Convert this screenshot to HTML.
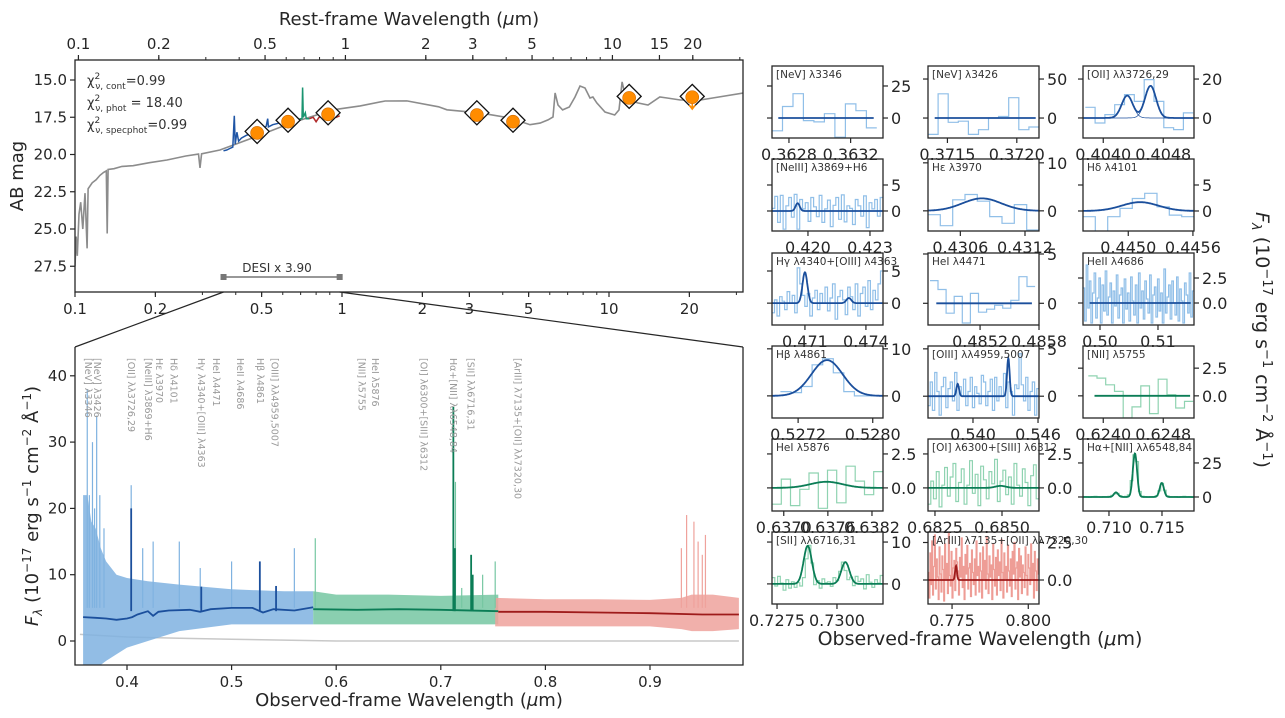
<!DOCTYPE html>
<html><head><meta charset="utf-8"><title>SED and spectrum fit</title>
<style>
html,body{margin:0;padding:0;background:#fff;}
svg{display:block;font-family:"DejaVu Sans","Liberation Sans",sans-serif;}
</style></head>
<body>
<svg id="fig" width="1285" height="718" viewBox="0 0 1285 718" xmlns="http://www.w3.org/2000/svg">
<rect x="0" y="0" width="1285" height="718" fill="#fff"/>
<text x="409" y="25" font-size="18" text-anchor="middle" fill="#262626">Rest-frame Wavelength (<tspan font-style="italic">μ</tspan>m)</text>
<text transform="translate(23,176) rotate(-90)" font-size="18" text-anchor="middle" fill="#262626">AB mag</text>
<text x="87" y="85" font-size="13" fill="#333">χ<tspan dy="-6" font-size="9">2</tspan><tspan dx="-5" dy="10" font-size="9">ν, cont</tspan><tspan dy="-4">=0.99</tspan></text>
<text x="87" y="107" font-size="13" fill="#333">χ<tspan dy="-6" font-size="9">2</tspan><tspan dx="-5" dy="10" font-size="9">ν, phot</tspan><tspan dy="-4"> = 18.40</tspan></text>
<text x="87" y="129" font-size="13" fill="#333">χ<tspan dy="-6" font-size="9">2</tspan><tspan dx="-5" dy="10" font-size="9">ν, specphot</tspan><tspan dy="-4">=0.99</tspan></text>
<text x="277" y="272" font-size="12" text-anchor="middle" fill="#333">DESI x 3.90</text>
<text transform="translate(38,506) rotate(-90)" font-size="18" text-anchor="middle" fill="#262626"><tspan font-style="italic">F</tspan><tspan font-size="12" dy="4" font-style="italic">λ</tspan><tspan dy="-4"> (10</tspan><tspan font-size="12" dy="-7">−17</tspan><tspan dy="7"> erg s</tspan><tspan font-size="12" dy="-7">−1</tspan><tspan dy="7"> cm</tspan><tspan font-size="12" dy="-7">−2</tspan><tspan dy="7"> Å</tspan><tspan font-size="12" dy="-7">−1</tspan><tspan dy="7">)</tspan></text>
<text x="409" y="706" font-size="18" text-anchor="middle" fill="#262626">Observed-frame Wavelength (<tspan font-style="italic">μ</tspan>m)</text>
<text x="980" y="645" font-size="19" text-anchor="middle" fill="#262626">Observed-frame Wavelength (<tspan font-style="italic">μ</tspan>m)</text>
<text transform="translate(1256,340) rotate(90)" font-size="19" text-anchor="middle" fill="#262626"><tspan font-style="italic">F</tspan><tspan font-size="13" dy="4" font-style="italic">λ</tspan><tspan dy="-4"> (10</tspan><tspan font-size="13" dy="-7">−17</tspan><tspan dy="7"> erg s</tspan><tspan font-size="13" dy="-7">−1</tspan><tspan dy="7"> cm</tspan><tspan font-size="13" dy="-7">−2</tspan><tspan dy="7"> Å</tspan><tspan font-size="13" dy="-7">−1</tspan><tspan dy="7">)</tspan></text>
</svg>
<script>
// ---------------- SED (top panel) data ----------------
const sedLam=[0.100,0.101,0.102,0.1035,0.105,0.107,0.109,0.111,0.112,0.116,0.120,0.124,0.128,0.131,0.132,0.133,0.140,0.150,0.165,0.190,0.221,0.260,0.290,0.294,0.298,0.349,0.40,0.493,0.60,0.696,0.925,1.17,1.45,1.75,2.3,2.47,3.29,4.26,5.06,5.52,5.91,6.17,6.28,6.44,6.7,7.1,7.46,7.79,8.13,8.49,8.7,9.0,9.66,10.5,10.9,11.2,11.6,12.0,12.8,14.0,15.5,16.5,18.5,22.0,31.8];
const sedMag=[27.5,25.5,26.8,24.0,23.2,25.0,22.6,26.3,22.3,21.9,21.7,21.4,21.2,21.1,25.3,21.0,20.95,20.8,20.75,20.55,20.37,20.1,19.97,20.9,19.95,19.7,19.3,18.7,18.1,17.7,17.0,16.74,16.41,16.4,16.8,17.0,17.21,17.55,18.0,17.89,17.68,17.48,15.87,16.68,17.01,16.81,16.14,15.40,15.54,16.21,16.14,16.54,17.15,17.35,17.01,15.13,16.34,16.34,16.54,16.68,16.14,16.21,16.34,16.34,15.87];
const photLam=[0.481,0.628,0.887,3.2,4.37,11.9,20.5];
const photMag=[18.55,17.8,17.3,17.35,17.8,16.2,16.15];
const modelPhotMag=[18.45,17.7,17.2,17.2,17.7,16.1,16.1];
const sedBlueLam=[0.36,0.37,0.38,0.39,0.395,0.398,0.404,0.41,0.42,0.44,0.46,0.48,0.49,0.50,0.52,0.527,0.53,0.55,0.58];
const sedBlueMag=[19.75,19.7,19.6,19.5,17.4,19.3,18.5,19.1,18.9,18.7,18.6,18.4,18.45,18.3,18.1,17.6,18.15,18.0,17.9];
const sedGreenLam=[0.58,0.62,0.66,0.70,0.708,0.712,0.716,0.729,0.735,0.755];
const sedGreenMag=[17.9,17.8,17.75,17.6,17.6,15.5,17.5,17.2,17.6,17.6];
const sedRedLam=[0.755,0.78,0.80,0.82,0.86,0.90,0.95,0.98];
const sedRedMag=[17.6,17.5,17.8,17.5,17.45,17.4,17.5,17.4];
const topMagTicks=[15.0,17.5,20.0,22.5,25.0,27.5];
const topMagLabels=["15.0","17.5","20.0","22.5","25.0","27.5"];
const obsTicks=[0.1,0.2,0.5,1,2,3,5,10,20];
const obsLabels=["0.1","0.2","0.5","1","2","3","5","10","20"];
const restTicks=[0.1,0.2,0.5,1,2,3,5,10,15,20];
const restLabels=["0.1","0.2","0.5","1","2","3","5","10","15","20"];
const desiRange=[0.36,0.98];
const redshift1p=1.03;

// ---------------- spectrum (bottom panel) data ----------------
const blueLam=[0.358,0.362,0.366,0.37,0.375,0.38,0.39,0.40,0.42,0.45,0.50,0.55,0.578];
const blueHi=[22,22,18,17,14,12,10,9.5,9,8.5,7.8,7.5,7.5];
const blueLo=[-3.6,-3.6,-3.6,-3.6,-3.6,-3,-2,-1,0,1.5,2.5,2.5,2.5];
const greenLam=[0.578,0.6,0.65,0.7,0.755];
const greenHi=[7.5,7,7,6.8,7];
const greenLo=[2.5,2.5,2.5,2.5,2.5];
const redLam=[0.752,0.8,0.85,0.9,0.93,0.94,0.96,0.985];
const redHi=[6.5,6.3,6.3,6.2,6.5,7,7,6.5];
const redLo=[2.2,2.2,2.2,2.2,1.8,1.5,1.5,1.8];
const blueModelLam=[0.358,0.37,0.38,0.39,0.40,0.405,0.41,0.42,0.425,0.43,0.44,0.46,0.47,0.48,0.50,0.52,0.53,0.54,0.56,0.578];
const blueModel=[3.6,3.5,3.4,3.2,3.4,3.6,4,4.5,3.8,4.4,4.6,4.7,4.4,4.8,5.0,5.0,4.3,4.8,4.6,5.1];
const greenModelLam=[0.578,0.62,0.66,0.7,0.755];
const greenModel=[4.8,4.7,4.8,4.7,4.5];
const redModelLam=[0.755,0.8,0.85,0.9,0.95,0.985];
const redModel=[4.4,4.4,4.3,4.2,4.0,4.0];
const contLam=[0.355,0.4,0.45,0.5,0.6,0.985];
const contFlux=[1.0,0.6,0.4,0.25,0.0,0.0];
const spikeLam=[0.362,0.364,0.367,0.369,0.371,0.374,0.378,0.404,0.415,0.425,0.45,0.47,0.5,0.527,0.56,0.58,0.714,0.72,0.74,0.752,0.93,0.935,0.942,0.946,0.95,0.953];
const spikeHi=[38,22,30,20,34,22,17,23.5,14,15,15,11,12,12,14,15.5,24,8,10,12,14,19,18,15,13,16];
const lineLam=[0.404,0.471,0.527,0.5425,0.712,0.7135,0.729,0.7305];
const lineHi=[20,8.2,12,8.3,35.3,14,13,10];
const specYTicks=[0,10,20,30,40];
const specXTicks=[0.4,0.5,0.6,0.7,0.8,0.9];
const specXLabels=["0.4","0.5","0.6","0.7","0.8","0.9"];
const labelLam=[0.363,0.372,0.4045,0.4205,0.431,0.445,0.471,0.4855,0.5085,0.5275,0.5415,0.6245,0.6375,0.684,0.712,0.729,0.774];
const labelText=["[NeV] λ3346","[NeV] λ3426","[OII] λλ3726,29","[NeIII] λ3869+H6","Hε λ3970","Hδ λ4101","Hγ λ4340+[OIII] λ4363","HeI λ4471","HeII λ4686","Hβ λ4861","[OIII] λλ4959,5007","[NII] λ5755","HeI λ5876","[OI] λ6300+[SIII] λ6312","Hα+[NII] λλ6548,84","[SII] λλ6716,31","[ArIII] λ7135+[OII] λλ7320,30"];

// ---------------- small panel data ----------------
const p1Data=[-10,9,19,-2,-3,3.4,-15,11,5.7,-7.7];
const p2Data=[-21,31,-5.5,-4,-21,-15,0,2,26,-15,-11.5];
const p3Data=[5.5,-2.6,1.7,6.8,12,8.5,19.7,8.5,-5,-6,2.6];
const p4Data=[0.5,2.8,-2.2,3,-3.5,1,2.6,-1.2,3.2,-3.5,2.2,0.4,1.6,-2,2.6,0.8,-1.1,3,-2.2,0.4,2.1,-3,1.1,2.6,-1.6,3.1,-2.1,1,0.5,-2.6,2.2,1,-1,2.9,-3.2,1.6,0.4,2.2,-1,2.6];
const p5Data=[-0.8,-3.1,2.3,3.4,2,-1.2,-2.6,1.3,-4];
const p6Data=[-1.1,-4,-1.1,0.5,2.4,3.4,0.8,-0.8,-1.1];
const p7Data=[-1.5,0.5,-2,1,0.3,-1,1.8,0,1.2,-1.5,5.5,3,1.2,-0.5,1.5,-2,0.8,2,-1,1.5,0,2.5,-1.2,0.8,3,-2.5,1,2,0.5,-1.8,2.5,1,-1,3,-2,1.5,2.5,-0.5,3.5,-1,2,0.5,3,5];
const p8Data=[2.3,1.4,-1,0.7,-2,1,-0.9,-0.6,-0.2,-0.5,0.3,2.7,1.7];
const p9Data=[1.5,-1.8,3.8,-0.5,2.2,-2,1,3,-1.5,0.5,2.5,-2,1.8,-0.8,3.2,-1.2,0.6,2,-2,1.2,-0.3,2.8,-1.5,0.8,1.5,-2,2.4,-0.6,1,-1.8,2.6,0.2,-1.2,1.8,-2,3,-0.5,1.2,-1.6,2.2,0.4,-1,2.8,-2,0.8,1.6,-1.4,2.4,-0.8,1,-2,3.4,-1,0.6,1.8,-1.6,2.2,0,-1.2,2.6,-1.8,1.4,0.2,-2,2,0.8,-1,3,-1.4,1.2];
const p10Data=[0.9,0.7,2,6.6,7.9,4.9,0.9,0,0];
const p11Data=[-1,1.5,-1.5,2.5,0.5,-2,1,2,-1.2,0.8,1.5,-0.5,2.5,-1.5,1,0,1.8,-1,0.5,2,-1.2,1,0.3,-0.8,2.2,1.5,-1,0.5,1.8,-1.5,2,-0.5,1,0,2.4,-1.2,1.5,0.5,-2,1.2,0.8,4.5,1.2,-0.5,2,-1.5,0.5,1.5,-2,0.8];
const p12Data=[1.8,1.6,1,0.4,-2,-1,0.9,-1.6,1.5,0.1,-1.1,-0.5];
const p13Data=[-1.2,0.65,-1.3,-0.1,1.1,-1.5,1.3,-1.1,1.6,0.5,-0.5,1.2];
const p14Data=[-1.2,0.5,-0.8,1.2,-1.4,0.2,1.5,-0.6,0.8,1.8,-1,0.4,1.4,-1.2,0.2,2,-0.4,1,-1.3,1.6,0.6,-0.8,1.2,0.3,2.1,-1,0.5,1.3,-0.5,0.8,-1.2,1.8,0.2,-0.6,1.4,0.4,-1.3,0.9,1.7,-0.8];
const p15Data=[0.3,0.1,-0.2,0.3,0.4,0.1,-0.1,0.3,0.2,0.5,1.2,2.3,2.6,1,0.3,0.4,1.5,12,31,26,4,0.6,0.3,-0.1,0.2,0.3,1,4.5,10,5,0.8,0.2,0.1,0.3,-0.2,0.2,0.4,0.1,0.2,-0.3];
const p16Data=[1.5,-0.5,1.8,0.2,-1.5,1,-1,0.5,-0.8,0.3,-0.5,1.5,6,9.2,5,-0.2,0.8,-1,1.2,0.3,0.5,-0.6,1.5,0.8,3,5.2,3.2,1,1.6,-0.4,1.8,0.6,1.2,-1.2,2.2,0.4,-0.8,1,0.2,2];
const p17Data=[0.5,-1.2,1.8,-0.3,2.6,-1,0.9,3,-0.6,1.4,0.2,-1.3,2.2,0.4,-0.8,1.6,0.7,-1.4,2.4,0.1,1.1,-0.9,3.1,0.3,-0.4,1.9,-1.2,0.8,1.3,-0.7,2.1,1.2,0.6,-1,1.5,0.2,2.8,-0.5,0.9,-1.3,1.7,0.4,2.3,-0.6,0.8,1.1,-1.1,2,0.5,-0.3,1.4,-1,2.6,0.3,0.9,-0.8,1.8,0.6,-1.2,2.2,0.1,1.3,-0.6,2.9,0.4,-0.9,1.6,0.2,1,-1.3,2.4,0.7,-0.4,1.5,-1,2,0.3,1.2,-0.7,2.7,0.5,-1.2,1.8,0.1,0.9,-0.8,2.3,0.6,-0.4,1.4,-1.1,1.9,0.4,2.5,-0.6,0.8,1.2,-1.3,2.1,0.2,1.6,-0.9,1,0.5,-0.5,2.2,0.3,-1,1.7,0.8,-0.3,2.4,0.1,1.1,-1.2,1.9,0.6,-0.7,1.4,0.4];
// gaussian model components [center, amplitude, sigma]
const p3Lines=[[0.40432,11.5,0.000074],[0.40463,16.5,0.000074]];
const p4Lines=[[0.4195,1.5,0.0001]];
const p5Lines=[[0.4308,2.6,0.00018]];
const p6Lines=[[0.44511,1.7,0.00017]];
const p7Lines=[[0.4710,4.8,0.00012],[0.47316,0.8,0.00012]];
const p10Lines=[[0.52751,7.6,0.000167]];
const p11Lines=[[0.53859,1.3,0.00012],[0.54326,4.0,0.00012]];
const p13Lines=[[0.63758,0.45,0.00022]];
const p14Lines=[[0.68495,0.15,0.0002]];
const p15Lines=[[0.71066,3.4,0.0002],[0.71245,32,0.0002],[0.71498,10.3,0.0002]];
const p16Lines=[[0.72878,9.1,0.00017],[0.73035,5.2,0.00017]];
const p17Lines=[[0.7763,0.95,0.0003]];

const NS='http://www.w3.org/2000/svg';
const svg=document.getElementById('fig');
function add(p,tag,a){const e=document.createElementNS(NS,tag);for(const k in a)e.setAttribute(k,a[k]);p.appendChild(e);return e;}
function txt(p,x,y,s,a){const e=add(p,'text',Object.assign({x:x,y:y},a||{}));e.textContent=s;return e;}
const AX='#262626';

// ====== TOP SED PANEL ======
const T={l:75,r:743,t:60,b:292};
function sx(l){return T.l+267*Math.log10(l/0.1);}
function sy(m){return 80+(m-15)*14.9;}
const gTop=add(svg,'g',{});


const defs=add(svg,'defs',{});
const cp=add(defs,'clipPath',{id:'clipTop'});
add(cp,'rect',{x:T.l,y:T.t,width:T.r-T.l,height:T.b-T.t});
const gTopPlot=add(gTop,'g',{'clip-path':'url(#clipTop)'});
function polyPath(xs,ys,fx,fy){let d='';for(let i=0;i<xs.length;i++)d+=(i?'L':'M')+fx(xs[i]).toFixed(1)+' '+fy(ys[i]).toFixed(1);return d;}
const sedLine=add(gTopPlot,'path',{d:polyPath(sedLam,sedMag,sx,sy),fill:'none',stroke:'#8c8c8c','stroke-width':1.6});


const sb=add(gTopPlot,'path',{d:polyPath(sedBlueLam,sedBlueMag,sx,sy),fill:'none',stroke:'#1f55a5','stroke-width':1.5});


const sg=add(gTopPlot,'path',{d:polyPath(sedGreenLam,sedGreenMag,sx,sy),fill:'none',stroke:'#1a9470','stroke-width':1.5});


const sr=add(gTopPlot,'path',{d:polyPath(sedRedLam,sedRedMag,sx,sy),fill:'none',stroke:'#b02a2a','stroke-width':1.5});


for(let i=0;i<photLam.length;i++){
  const x=sx(photLam[i]),y=sy(modelPhotMag[i]),s=12;
  const dm=add(gTopPlot,'path',{d:`M${x} ${y-s}L${x+s} ${y}L${x} ${y+s}L${x-s} ${y}Z`,fill:'#fff',stroke:'#111','stroke-width':1.3});
  
  
}
for(let i=0;i<photLam.length;i++){
  const x=sx(photLam[i]),y=sy(photMag[i]);
  if(i===photLam.length-1){
    const ar=add(gTopPlot,'path',{d:`M${x} ${y}V${y+12}M${x-3} ${y+8}L${x} ${y+12}L${x+3} ${y+8}`,stroke:'#ff8c00','stroke-width':1.5,fill:'none'});
    
    
  }
  const c=add(gTopPlot,'circle',{cx:x,cy:y,r:6.5,fill:'#ff8c00',stroke:'#d06a00','stroke-width':0.6});
  
  
}
const desiBar=add(gTop,'g',{});


add(desiBar,'line',{x1:sx(desiRange[0]),x2:sx(desiRange[1]),y1:277,y2:277,stroke:'#777','stroke-width':1.5});
add(desiBar,'rect',{x:sx(desiRange[0])-3,y:274,width:6,height:6,fill:'#777'});
add(desiBar,'rect',{x:sx(desiRange[1])-3,y:274,width:6,height:6,fill:'#777'});
const fr=add(gTop,'rect',{x:T.l,y:T.t,width:T.r-T.l,height:T.b-T.t,fill:'none',stroke:AX,'stroke-width':1.3});


for(let i=0;i<topMagTicks.length;i++){
  const y=sy(topMagTicks[i]);
  add(gTop,'line',{x1:T.l-5,x2:T.l,y1:y,y2:y,stroke:AX,'stroke-width':1.2});
  const t=txt(gTop,T.l-8,y+5,topMagLabels[i],{'font-size':15,'text-anchor':'end',fill:AX});
  
  
}
for(let dec=0.1;dec<40;dec*=10){for(let k=1;k<10;k++){const l=dec*k;const x=sx(l);if(x<T.l-0.5||x>T.r)continue;add(gTop,'line',{x1:x,x2:x,y1:T.b,y2:T.b+(k===1?5:3),stroke:AX,'stroke-width':1});}}
for(let i=0;i<obsTicks.length;i++){
  const x=sx(obsTicks[i]);
  add(gTop,'line',{x1:x,x2:x,y1:T.b,y2:T.b+5,stroke:AX,'stroke-width':1.2});
  const t=txt(gTop,x,T.b+22,obsLabels[i],{'font-size':15,'text-anchor':'middle',fill:AX});
  
  
}
function rx(l){return sx(l*redshift1p);}
for(let dec=0.1;dec<40;dec*=10){for(let k=1;k<10;k++){const l=dec*k;const x=rx(l);if(x<T.l||x>T.r)continue;add(gTop,'line',{x1:x,x2:x,y1:T.t,y2:T.t-3,stroke:AX,'stroke-width':1});}}
for(let i=0;i<restTicks.length;i++){
  const x=rx(restTicks[i]);
  add(gTop,'line',{x1:x,x2:x,y1:T.t,y2:T.t-5,stroke:AX,'stroke-width':1.2});
  const t=txt(gTop,x,T.t-11,restLabels[i],{'font-size':15,'text-anchor':'middle',fill:AX});
  
  
}

// ====== BOTTOM SPECTRUM PANEL ======
const B={l:75,r:743,t:347,b:665};
function bx(l){return 127+(l-0.4)*1046;}
function by(f){return 641-f*6.63;}
const zl=add(svg,'path',{d:`M${sx(desiRange[0])} ${T.b}L${B.l} ${B.t}M${sx(desiRange[1])} ${T.b}L${B.r} ${B.t}`,stroke:AX,'stroke-width':1.2,fill:'none'});


const gB=add(svg,'g',{});


const cpB=add(defs,'clipPath',{id:'clipB'});
add(cpB,'rect',{x:B.l,y:B.t,width:B.r-B.l,height:B.b-B.t});
const gBP=add(gB,'g',{'clip-path':'url(#clipB)'});
function band(lam,hi,lo,col,name){
  let d='';for(let i=0;i<lam.length;i++)d+=(i?'L':'M')+bx(lam[i]).toFixed(1)+' '+by(hi[i]).toFixed(1);
  for(let i=lam.length-1;i>=0;i--)d+='L'+bx(lam[i]).toFixed(1)+' '+by(lo[i]).toFixed(1);
  const p=add(gBP,'path',{d:d+'Z',fill:col,opacity:0.85});
  
  
}
const cont=add(gBP,'path',{d:polyPath(contLam,contFlux,bx,by),fill:'none',stroke:'#c8c8c8','stroke-width':1.5});


band(blueLam,blueHi,blueLo,'#7fb2e0','blue-spectrum-data');
band(greenLam,greenHi,greenLo,'#76c7a2','green-spectrum-data');
band(redLam,redHi,redLo,'#efa29c','red-spectrum-data');
function segColor(l,light){if(l<0.578)return light?'#7fb2e0':'#1b4f9c';if(l<0.755)return light?'#76c7a2':'#0b7d56';return light?'#efa29c':'#9e1b1b';}
for(let i=0;i<spikeLam.length;i++){
  const x=bx(spikeLam[i]);
  const s=add(gBP,'line',{x1:x,x2:x,y1:by(5),y2:by(spikeHi[i]),stroke:segColor(spikeLam[i],true),'stroke-width':1.2});
  
  
}
const mb=add(gBP,'path',{d:polyPath(blueModelLam,blueModel,bx,by),fill:'none',stroke:'#1b4f9c','stroke-width':1.8});


const mg=add(gBP,'path',{d:polyPath(greenModelLam,greenModel,bx,by),fill:'none',stroke:'#0b7d56','stroke-width':1.8});


const mr=add(gBP,'path',{d:polyPath(redModelLam,redModel,bx,by),fill:'none',stroke:'#9e1b1b','stroke-width':1.8});


for(let i=0;i<lineLam.length;i++){
  const x=bx(lineLam[i]);
  const s=add(gBP,'line',{x1:x,x2:x,y1:by(4.5),y2:by(lineHi[i]),stroke:segColor(lineLam[i],false),'stroke-width':1.8});
  
  
}
for(let i=0;i<labelLam.length;i++){
  const x=bx(labelLam[i])-3.5,y=358;
  const t=txt(gB,x,y,labelText[i],{'font-size':9.5,fill:'#9a9a9a',transform:`rotate(90 ${x} ${y})`});
  
  
}
const frB=add(gB,'path',{d:`M${B.l} ${B.t}V${B.b}H${B.r}V${B.t}`,fill:'none',stroke:AX,'stroke-width':1.3});


for(let i=0;i<specYTicks.length;i++){
  const y=by(specYTicks[i]);
  add(gB,'line',{x1:B.l-5,x2:B.l,y1:y,y2:y,stroke:AX,'stroke-width':1.2});
  const t=txt(gB,B.l-8,y+5,String(specYTicks[i]),{'font-size':15,'text-anchor':'end',fill:AX});
  
  
}
for(let i=0;i<specXTicks.length;i++){
  const x=bx(specXTicks[i]);
  add(gB,'line',{x1:x,x2:x,y1:B.b,y2:B.b+5,stroke:AX,'stroke-width':1.2});
  const t=txt(gB,x,B.b+22,specXLabels[i],{'font-size':15,'text-anchor':'middle',fill:AX});
  
  
}

// ====== SMALL PANELS ======
const COLX=[772,928,1083], ROWY=[66,159,253,346,439,532], PW=111, PH=72;
const BLUE={light:'#90bfe8',dark:'#1b4f9c'},GREEN={light:'#8fd3b1',dark:'#0b7d56'},RED={light:'#ee9d96',dark:'#9e1b1b'};
const panels=[
 {c:0,r:0,title:'[NeV] λ3346',xl:[0.36269,0.36341],yl:[-15.6,40.6],xt:[0.3628,0.3632],xtl:['0.3628','0.3632'],yt:[0,25],ytl:['0','25'],data:p1Data,dr:[0.36269,0.36337],lines:[],col:BLUE},
 {c:1,r:0,title:'[NeV] λ3426',xl:[0.37136,0.37216],yl:[-25.6,66.7],xt:[0.3715,0.3720],xtl:['0.3715','0.3720'],yt:[0,50],ytl:['0','50'],data:p2Data,dr:[0.37136,0.37216],lines:[],col:BLUE},
 {c:2,r:0,title:'[OII] λλ3726,29',xl:[0.40373,0.40521],yl:[-10.3,26.7],xt:[0.4040,0.4048],xtl:['0.4040','0.4048'],yt:[0,20],ytl:['0','20'],data:p3Data,dr:[0.40376,0.4052],lines:p3Lines,comp:true,col:BLUE},
 {c:0,r:1,title:'[NeIII] λ3869+H6',xl:[0.41826,0.42363],yl:[-3.85,10],xt:[0.420,0.423],xtl:['0.420','0.423'],yt:[0,5],ytl:['0','5'],data:p4Data,dr:[0.41826,0.42363],lines:p4Lines,col:BLUE},
 {c:1,r:1,title:'Hε λ3970',xl:[0.43030,0.43133],yl:[-4.2,10.8],xt:[0.4306,0.4312],xtl:['0.4306','0.4312'],yt:[0,10],ytl:['0','10'],data:p5Data,dr:[0.43030,0.43133],lines:p5Lines,col:BLUE},
 {c:2,r:1,title:'Hδ λ4101',xl:[0.44458,0.44561],yl:[-3.85,10],xt:[0.4450,0.4456],xtl:['0.4450','0.4456'],yt:[0,5],ytl:['0','5'],data:p6Data,dr:[0.44458,0.44561],lines:p6Lines,col:BLUE},
 {c:0,r:2,title:'Hγ λ4340+[OIII] λ4363',xl:[0.46938,0.47484],yl:[-3.4,7.8],xt:[0.471,0.474],xtl:['0.471','0.474'],yt:[0,5],ytl:['0','5'],data:p7Data,dr:[0.46938,0.47484],lines:p7Lines,col:BLUE},
 {c:1,r:2,title:'HeI λ4471',xl:[0.48467,0.4858],yl:[-2.2,5.1],xt:[0.4852,0.4858],xtl:['0.4852','0.4858'],yt:[0,5],ytl:['0','5'],data:p8Data,dr:[0.48469,0.48576],lines:[],col:BLUE},
 {c:2,r:2,title:'HeII λ4686',xl:[0.49707,0.51621],yl:[-2.2,5],xt:[0.50,0.51],xtl:['0.50','0.51'],yt:[0,2.5],ytl:['0.0','2.5'],data:p9Data,dr:[0.49707,0.51621],lines:[],col:BLUE},
 {c:0,r:3,title:'Hβ λ4861',xl:[0.52692,0.52811],yl:[-4.7,10.6],xt:[0.5272,0.5280],xtl:['0.5272','0.5280'],yt:[0,10],ytl:['0','10'],data:p10Data,dr:[0.52701,0.52803],lines:p10Lines,col:BLUE},
 {c:1,r:3,title:'[OIII] λλ4959,5007',xl:[0.53585,0.54609],yl:[-2.3,5.3],xt:[0.540,0.546],xtl:['0.540','0.546'],yt:[0,5],ytl:['0','5'],data:p11Data,dr:[0.53585,0.54609],lines:p11Lines,col:BLUE},
 {c:2,r:3,title:'[NII] λ5755',xl:[0.62373,0.62521],yl:[-2,4.5],xt:[0.6240,0.6248],xtl:['0.6240','0.6248'],yt:[0,2.5],ytl:['0.0','2.5'],data:p12Data,dr:[0.6238,0.6252],lines:[],col:GREEN},
 {c:0,r:4,title:'HeI λ5876',xl:[0.63684,0.63835],yl:[-1.7,3.6],xt:[0.6370,0.6376,0.6382],xtl:['0.6370','0.6376','0.6382'],yt:[0,2.5],ytl:['0.0','2.5'],data:p13Data,dr:[0.63684,0.63835],lines:p13Lines,col:GREEN},
 {c:1,r:4,title:'[OI] λ6300+[SIII] λ6312',xl:[0.68224,0.68638],yl:[-1.7,3.6],xt:[0.6825,0.6850],xtl:['0.6825','0.6850'],yt:[0,2.5],ytl:['0.0','2.5'],data:p14Data,dr:[0.68224,0.68638],lines:p14Lines,col:GREEN},
 {c:2,r:4,title:'Hα+[NII] λλ6548,84',xl:[0.70755,0.71802],yl:[-10.3,42.6],xt:[0.710,0.715],xtl:['0.710','0.715'],yt:[0,25],ytl:['0','25'],data:p15Data,dr:[0.70755,0.71802],lines:p15Lines,col:GREEN},
 {c:0,r:5,title:'[SII] λλ6716,31',xl:[0.72729,0.73192],yl:[-4.8,12.4],xt:[0.7275,0.7300],xtl:['0.7275','0.7300'],yt:[0,10],ytl:['0','10'],data:p16Data,dr:[0.72729,0.73192],lines:p16Lines,col:GREEN},
 {c:1,r:5,title:'[ArIII] λ7135+[OII] λλ7320,30',xl:[0.76711,0.80352],yl:[-1.6,3.2],xt:[0.775,0.800],xtl:['0.775','0.800'],yt:[0,2.5],ytl:['0.0','2.5'],data:p17Data,dr:[0.76711,0.80352],lines:p17Lines,col:RED}
];
panels.forEach((P,idx)=>{
  const x0=COLX[P.c],y0=ROWY[P.r];
  const X=v=>x0+(v-P.xl[0])/(P.xl[1]-P.xl[0])*PW;
  const Y=v=>y0+PH-(v-P.yl[0])/(P.yl[1]-P.yl[0])*PH;
  const g=add(svg,'g',{});
  
  
  const cpp=add(defs,'clipPath',{id:'cp'+idx});
  add(cpp,'rect',{x:x0,y:y0,width:PW,height:PH});
  const gp=add(g,'g',{'clip-path':`url(#cp${idx})`});
  const n=P.data.length,w=(P.dr[1]-P.dr[0])/n;
  let d='';
  for(let i=0;i<n;i++){const xa=X(P.dr[0]+i*w),xb=X(P.dr[0]+(i+1)*w),yy=Y(P.data[i]);d+=(i?'L':'M')+xa.toFixed(1)+' '+yy.toFixed(1)+'L'+xb.toFixed(1)+' '+yy.toFixed(1);}
  const st=add(gp,'path',{d:d,fill:'none',stroke:P.col.light,'stroke-width':1.2});
  
  
  const m0=P.lines.length?P.xl[0]:P.dr[0]+(P.dr[1]-P.dr[0])*0.06, m1=P.lines.length?P.xl[1]:P.dr[1]-(P.dr[1]-P.dr[0])*0.03;
  const model=v=>P.lines.reduce((s,L)=>s+L[1]*Math.exp(-((v-L[0])**2)/(2*L[2]*L[2])),0);
  if(P.comp){P.lines.forEach(L=>{let dd='';for(let k=0;k<=200;k++){const v=m0+(m1-m0)*k/200;dd+=(k?'L':'M')+X(v).toFixed(1)+' '+Y(L[1]*Math.exp(-((v-L[0])**2)/(2*L[2]*L[2]))).toFixed(1);}
    const cl=add(gp,'path',{d:dd,fill:'none',stroke:P.col.dark,'stroke-width':0.7});
    
    });}
  let md='';for(let k=0;k<=300;k++){const v=m0+(m1-m0)*k/300;md+=(k?'L':'M')+X(v).toFixed(1)+' '+Y(model(v)).toFixed(1);}
  const ml=add(gp,'path',{d:md,fill:'none',stroke:P.col.dark,'stroke-width':1.8});
  
  
  const bx_=add(g,'rect',{x:x0,y:y0,width:PW,height:PH,fill:'none',stroke:AX,'stroke-width':1.3});
  
  
  const tt=txt(g,x0+4,y0+12,P.title,{'font-size':10.5,fill:'#333'});
  
  
  P.yt.forEach((v,i)=>{const y=Y(v);
    add(g,'line',{x1:x0+PW,x2:x0+PW+5,y1:y,y2:y,stroke:AX,'stroke-width':1.2});
    add(g,'line',{x1:x0-5,x2:x0,y1:y,y2:y,stroke:AX,'stroke-width':1.2});
    const t=txt(g,x0+PW+8,y+6,P.ytl[i],{'font-size':16,fill:AX});
    
    });
  P.xt.forEach((v,i)=>{const x=X(v);
    add(g,'line',{x1:x,x2:x,y1:y0+PH,y2:y0+PH+5,stroke:AX,'stroke-width':1.2});
    const t=txt(g,x,y0+PH+22,P.xtl[i],{'font-size':16,'text-anchor':'middle',fill:AX});
    
    });
});
</script>
</body></html>
